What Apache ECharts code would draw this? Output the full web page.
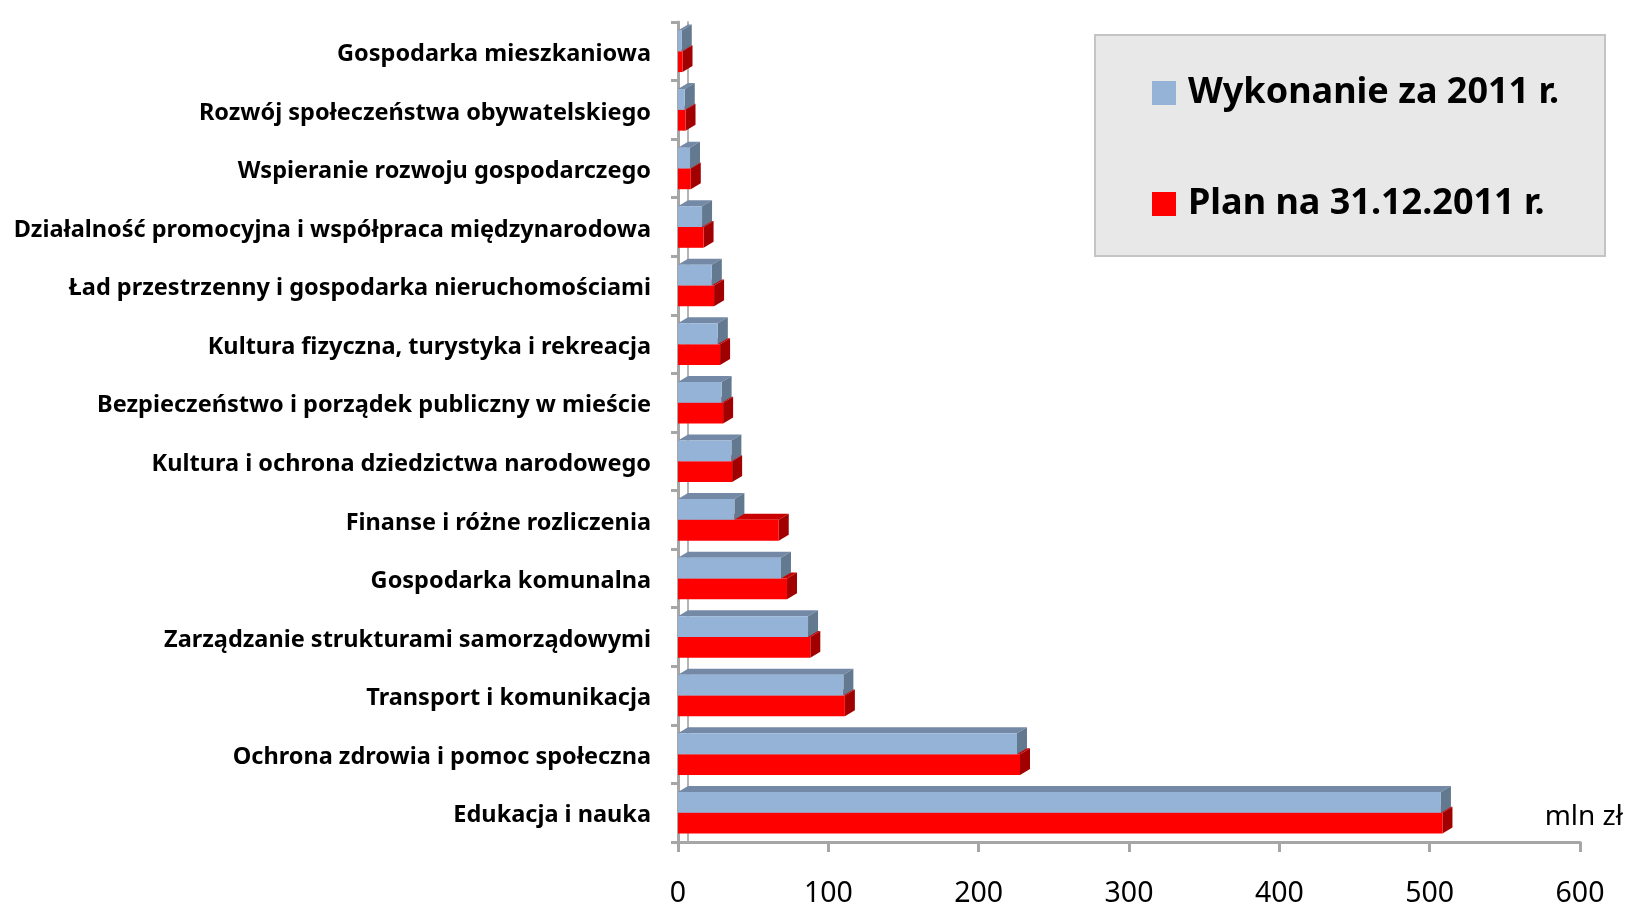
<!DOCTYPE html>
<html>
<head>
<meta charset="utf-8">
<script src="https://cdn.jsdelivr.net/npm/echarts@6/dist/echarts.min.js"></script>
<style>
html, body { margin: 0; padding: 0; background: #fff; }
#main { width: 1629px; height: 906px; }
</style>
</head>
<body>
<div id="main"></div>
<script>
var dom = document.getElementById('main');
var myChart = echarts.init(dom);

var categories = [
    'Gospodarka mieszkaniowa',
    'Rozwój społeczeństwa obywatelskiego',
    'Wspieranie rozwoju gospodarczego',
    'Działalność promocyjna i współpraca międzynarodowa',
    'Ład przestrzenny i gospodarka nieruchomościami',
    'Kultura fizyczna, turystyka i rekreacja',
    'Bezpieczeństwo i porządek publiczny w mieście',
    'Kultura i ochrona dziedzictwa narodowego',
    'Finanse i różne rozliczenia',
    'Gospodarka komunalna',
    'Zarządzanie strukturami samorządowymi',
    'Transport i komunikacja',
    'Ochrona zdrowia i pomoc społeczna',
    'Edukacja i nauka'
];
var wykonanie = [2.5, 4.5, 8, 16, 22.5, 26.5, 29, 35.5, 37.5, 68.5, 86.5, 110, 225.5, 507.5];
var plan = [3, 5, 8.5, 17, 24, 28, 30, 36, 67, 72.5, 88, 111, 227.5, 508.5];
var xTicks = { min: 0, max: 600, interval: 100 };
var seriesNames = ['Wykonanie za 2011 r.', 'Plan na 31.12.2011 r.'];

// kolory: przód, góra, bok
var blue = ['#95b3d7', '#7489a6', '#62798f'];
var red = ['#ff0000', '#c80000', '#a00000'];
var DX = 10, DY = 6;

function toData(arr) {
    return arr.map(function (v, i) { return [v, categories[i]]; });
}

function makeRender(cols, side) {
    return function (params, api) {
        var val = api.value(0);
        var idx = api.value(1);
        var p0 = api.coord([0, idx]);
        var p1 = api.coord([val, idx]);
        var band = api.size([0, 1])[1];
        var w = band * 0.355;
        var yTop = side < 0 ? p0[1] - w : p0[1];
        var x0 = p0[0], x1 = p1[0];
        return {
            type: 'group',
            children: [
                {
                    type: 'polygon',
                    shape: { points: [[x0, yTop], [x0 + DX, yTop - DY], [x1 + DX, yTop - DY], [x1, yTop]] },
                    style: { fill: cols[1] }
                },
                {
                    type: 'polygon',
                    shape: { points: [[x1, yTop], [x1 + DX, yTop - DY], [x1 + DX, yTop + w - DY], [x1, yTop + w]] },
                    style: { fill: cols[2] }
                },
                {
                    type: 'rect',
                    shape: { x: x0, y: yTop, width: x1 - x0, height: w },
                    style: { fill: cols[0] }
                }
            ]
        };
    };
}

var option = {
    animation: false,
    backgroundColor: '#ffffff',
    grid: { left: 678, right: 49, top: 22, bottom: 64, containLabel: false, outerBoundsMode: 'none' },
    legend: {
        data: seriesNames,
        orient: 'vertical',
        left: 1095,
        top: 35,
        backgroundColor: '#e8e8e8',
        borderColor: '#c4c4c4',
        borderWidth: 2,
        padding: [38, 46, 32, 57],
        itemGap: 71,
        itemWidth: 24,
        itemHeight: 24,
        icon: 'rect',
        selectedMode: false,
        textStyle: {
            fontFamily: 'Noto Sans',
            fontWeight: 'bold',
            fontSize: 36,
            lineHeight: 40,
            color: '#000',
            padding: [0, 0, 0, 7]
        }
    },
    xAxis: {
        type: 'value',
        min: xTicks.min,
        max: xTicks.max,
        interval: xTicks.interval,
        splitLine: { show: false },
        axisLine: { show: true, lineStyle: { color: '#a6a6a6', width: 3 } },
        axisTick: { show: true, length: 10, lineStyle: { color: '#a6a6a6', width: 3 } },
        axisLabel: { fontFamily: 'Noto Sans', fontSize: 28.5, color: '#000', margin: 37 }
    },
    yAxis: [{
        type: 'category',
        data: categories,
        inverse: true,
        axisLine: { show: true, lineStyle: { color: '#a6a6a6', width: 3 } },
        axisTick: { show: true, length: 7, lineStyle: { color: '#a6a6a6', width: 3 } },
        axisLabel: {
            margin: 27,
            formatter: function (v) { return '{c|' + v + '}'; },
            rich: {
                c: {
                    fontFamily: 'Noto Sans',
                    fontWeight: 'bold',
                    fontSize: 23.5,
                    color: '#000',
                    padding: [6, 0, 0, 0]
                }
            }
        }
    }, {
        type: 'category',
        data: categories,
        inverse: true,
        position: 'left',
        offset: -10,
        axisLine: { show: true, lineStyle: { color: '#b4b4b4', width: 2 } },
        axisTick: { show: false },
        axisLabel: { show: false }
    }],
    graphic: [{
        type: 'text',
        right: 6,
        top: 803,
        style: { text: 'mln zł', fontFamily: 'Noto Sans', fontSize: 28, fill: '#000' }
    }],
    series: [{
        type: 'custom',
        name: seriesNames[0],
        z: 3,
        itemStyle: { color: blue[0] },
        encode: { x: 0, y: 1 },
        renderItem: makeRender(blue, -1),
        data: toData(wykonanie)
    }, {
        type: 'custom',
        name: seriesNames[1],
        z: 2,
        itemStyle: { color: red[0] },
        encode: { x: 0, y: 1 },
        renderItem: makeRender(red, 1),
        data: toData(plan)
    }]
};

if (option && typeof option === 'object') {
    myChart.setOption(option, true);
}
</script>
</body>
</html>
